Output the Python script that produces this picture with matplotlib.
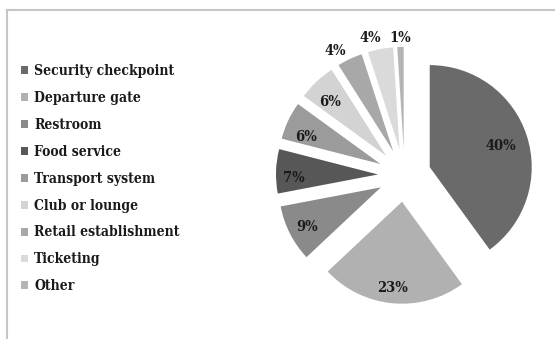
import numpy as np
import matplotlib
matplotlib.use('Agg')
from matplotlib import pyplot as plt
from matplotlib.lines import Line2D

# share of complaints by location
locations = ['Security checkpoint', 'Departure gate', 'Restroom', 'Food service',
             'Transport system', 'Club or lounge', 'Retail establishment',
             'Ticketing', 'Other']
shares = [40, 23, 9, 7, 6, 6, 4, 4, 1]

colors = ['#6a6a6a', '#b1b1b1', '#8a8a8a', '#575757', '#9b9b9b',
          '#d3d3d3', '#a8a8a8', '#dadada', '#b4b4b4']
# where each percentage sits, in pie radii from the pie centre
label_pos = [(0.946, 0.307), (-0.118, -1.092), (-0.951, -0.494), (-1.086, -0.014),
             (-0.969, 0.395), (-0.730, 0.731), (-0.681, 1.235), (-0.338, 1.359),
             (-0.044, 1.359)]

W, H = 555, 339
fig = plt.figure(figsize=(W / 100, H / 100), dpi=100)

font = dict(family='DejaVu Serif', weight='bold', stretch='condensed')

# pie axes: radius 1 -> 102 px, centre at (404.5, 175.3) px from top-left
R = 102.0
span = 1.5
size = 2 * span * R
cx, cy = 404.5, H - 175.3
ax = fig.add_axes([(cx - size / 2) / W, (cy - size / 2) / H, size / W, size / H])

explode = [0.26] * len(shares)
wedges, _ = ax.pie(shares, colors=colors, explode=explode, startangle=90,
                   counterclock=False, radius=1.0,
                   wedgeprops=dict(linewidth=0))
# pie() resets the limits, so fix them afterwards
ax.set_xlim(-span, span)
ax.set_ylim(-span, span)
ax.set_aspect('equal')
ax.axis('off')

for s, (x, y) in zip(shares, label_pos):
    ax.text(x, y - 0.015, '%d%%' % s, ha='center', va='center', fontsize=10.5,
            color='#1a1a1a', **font)

leg = fig.legend(wedges, locations, loc='upper left',
                 bbox_to_anchor=(21 / W, 1 - 64 / H), frameon=False,
                 prop=dict(size=10, **font),
                 handlelength=0.5, handleheight=0.5, handletextpad=0.45,
                 labelspacing=0.93, borderpad=0, borderaxespad=0)
for t in leg.get_texts():
    t.set_color('#1a1a1a')

# chart area outline (top and left edges)
fig.add_artist(Line2D([6.5 / W, 6.5 / W], [0, 1 - 9.5 / H], transform=fig.transFigure,
                      color='#c6c6c6', lw=1.5))
fig.add_artist(Line2D([6.5 / W, 1], [1 - 9.5 / H, 1 - 9.5 / H], transform=fig.transFigure,
                      color='#c6c6c6', lw=1.5))

fig.savefig('out.png', dpi=100)
